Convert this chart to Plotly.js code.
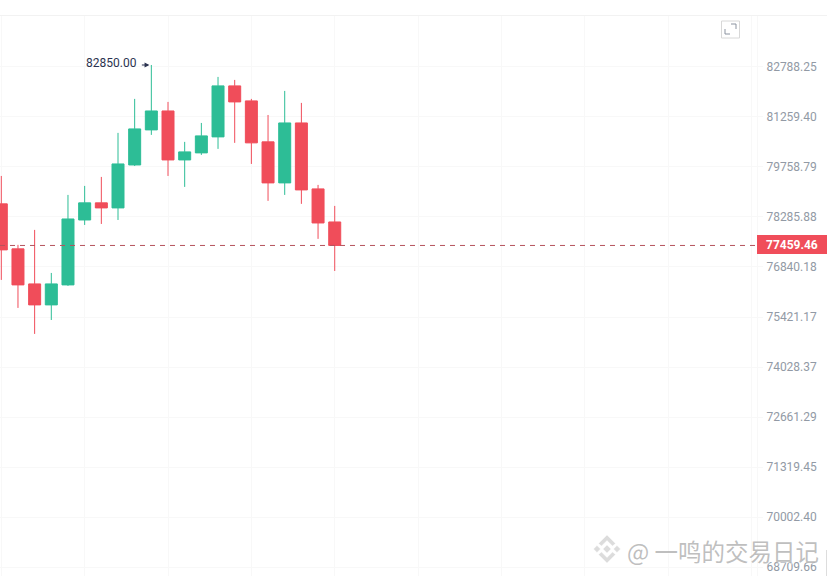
<!DOCTYPE html>
<html>
<head>
<meta charset="utf-8">
<script src="https://cdn.plot.ly/plotly-3.0.1.min.js"></script>
<style>html,body{margin:0;padding:0;background:#fff;overflow:hidden}#c{width:827px;height:576px}#c path{stroke-miterlimit:10}</style>
</head>
<body>
<div id="c"></div>
<script>
const candleIndex = [0,1,2,3,4,5,6,7,8,9,10,11,12,13,14,15,16,17,18,19,20];
const openPrices  = [78670,77361,76357,75762,76329,78199,78699,78551,79819,80869,81442,79969,80179,80659,82207,81748,80509,79287,81079,79110,78141];
const highPrices  = [79493,77477,77910,76670,78933,79198,79464,80779,81809,82850,81717,80509,81079,82482,82390,81809,81320,82053,81687,79228,78610];
const lowPrices   = [76471,75677,74947,75337,76300,78054,78083,78199,79789,80719,79493,79169,80119,80299,80479,79849,78758,78933,78670,77650,76726];
const closePrices = [77332,76329,75762,76357,78228,78699,78551,79849,80899,81442,79969,80209,80689,82207,81717,80479,79287,81079,79080,78112,77459.46];

const priceTicks = [82788.25,81259.40,79758.79,78285.88,76840.18,75421.17,74028.37,72661.29,71319.45,70002.40,68709.66];
const priceLabels = ["82788.25","81259.40","79758.79","78285.88","76840.18","75421.17","74028.37","72661.29","71319.45","70002.40","68709.66"];

const currentPrice = 77459.46;
const peakPrice = 82850;
const peakIndex = 9;
const priceRange = [68480, 84408];
const indexRange = [-0.078, 45.33];

const GREEN = "#2DBD96", RED = "#F04D5A", GRID = "#F8F8F8", AXIS = "#929AA5";
const W = 827, H = 576, PW = 757, PT = 15, PH = 561;
const px = x => x / PW, py = y => 1 - (y - PT) / PH;
const poly = pts => "M" + pts.map(p => px(p[0]) + "," + py(p[1])).join("L") + "Z";
const pline = pts => "M" + pts.map(p => px(p[0]) + "," + py(p[1])).join("L");

const logoFill = "rgba(205,205,205,0.7)";
const cx = 607, cy = 549;
const logoPaths = [
  [[cx-4,cy],[cx,cy-4],[cx+4,cy],[cx,cy+4]],
  [[cx-13.5,cy],[cx-10,cy-3.5],[cx-6.5,cy],[cx-10,cy+3.5]],
  [[cx+13.5,cy],[cx+10,cy-3.5],[cx+6.5,cy],[cx+10,cy+3.5]],
  [[cx,cy-14],[cx+8.5,cy-5.5],[cx+5.5,cy-3],[cx,cy-8.5],[cx-5.5,cy-3],[cx-8.5,cy-5.5]],
  [[cx,cy+14],[cx+8.5,cy+5.5],[cx+5.5,cy+3],[cx,cy+8.5],[cx-5.5,cy+3],[cx-8.5,cy+5.5]]
];

const shapes = [
  {type:"line",xref:"x",yref:"y",x0:indexRange[0],x1:indexRange[1],y0:currentPrice,y1:currentPrice,
   line:{color:"#B5535C",width:1,dash:"5px,5px"}},
  {type:"rect",xref:"paper",yref:"paper",x0:px(721.5),x1:px(739.5),y0:py(38),y1:py(21),line:{color:"#D8D8D8",width:1},fillcolor:"#fff"},
  {type:"path",xref:"paper",yref:"paper",path:pline([[731,24],[736,24],[736,29]]),line:{color:"#8B93A0",width:1}},
  {type:"path",xref:"paper",yref:"paper",path:pline([[725,29],[725,34],[730,34]]),line:{color:"#8B93A0",width:1}},
  {type:"rect",xref:"paper",yref:"paper",x0:px(757),x1:px(827),y0:py(254),y1:py(235),line:{width:0},fillcolor:RED},
  {type:"line",xref:"paper",yref:"paper",x0:px(826.5),x1:px(826.5),y0:py(576),y1:py(550),line:{color:"#DDDDDD",width:1}},
  {type:"line",xref:"paper",yref:"paper",x0:0,x1:px(827),y0:py(15.5),y1:py(15.5),line:{color:"#F2F2F2",width:1}}
].concat(logoPaths.map(p => ({type:"path",xref:"paper",yref:"paper",path:poly(p),fillcolor:logoFill,line:{color:"rgba(255,255,255,0.7)",width:0.5}})));

const annotations = [
  {xref:"x",yref:"y",x:peakIndex,y:Math.log10(peakPrice),xanchor:"right",yanchor:"middle",xshift:-12,yshift:2,
   text:peakPrice.toFixed(2),showarrow:false,font:{family:"Roboto",size:12,color:"#2B3350"}},
  {xref:"x",yref:"y",x:peakIndex,y:Math.log10(peakPrice),axref:"pixel",ayref:"pixel",ax:-11,ay:0,text:"",showarrow:true,
   arrowhead:2,arrowsize:0.8,arrowwidth:1.2,arrowcolor:"#2B3350",standoff:2},
  {xref:"paper",yref:"paper",x:px(792),y:py(245),xanchor:"center",yanchor:"middle",text:"<b>"+currentPrice.toFixed(2)+"</b>",
   showarrow:false,font:{family:"Roboto",size:12,color:"#fff"}},
  {xref:"paper",yref:"paper",x:px(625),y:py(551),xanchor:"left",yanchor:"middle",text:"@ 一鸣的交易日记",showarrow:false,
   font:{family:"Noto Sans CJK SC",size:23.5,color:"rgba(170,170,170,0.75)",shadow:"1px 1px 1px rgba(255,255,255,0.8)"}}
];

const trace = {
  type:"candlestick", x:candleIndex, open:openPrices, high:highPrices, low:lowPrices, close:closePrices,
  increasing:{line:{color:GREEN,width:1},fillcolor:GREEN},
  decreasing:{line:{color:RED,width:1},fillcolor:RED},
  whiskerwidth:0, hoverinfo:"skip", showlegend:false
};

const layout = {
  width:W, height:H, margin:{l:0,r:70,t:15,b:0}, paper_bgcolor:"#fff", plot_bgcolor:"#fff",
  showlegend:false, boxgap:0.28, boxgroupgap:0,
  xaxis:{type:"linear",range:indexRange,tick0:0,dtick:5,showgrid:true,gridcolor:GRID,gridwidth:1,zeroline:false,
         showticklabels:false,ticks:"",showline:false,rangeslider:{visible:false},fixedrange:true},
  yaxis:{type:"log",side:"right",range:priceRange.map(Math.log10),tickmode:"array",tickvals:priceTicks,ticktext:priceLabels,
         showgrid:true,gridcolor:GRID,gridwidth:1,zeroline:false,ticks:"outside",ticklen:5,tickcolor:GRID,tickwidth:1,
         showline:true,linecolor:GRID,linewidth:1,mirror:false,ticklabelstandoff:1,
         tickfont:{family:"Roboto",size:12,color:AXIS},fixedrange:true},
  shapes:shapes,
  annotations:annotations
};
Plotly.newPlot("c",[trace],layout,{displayModeBar:false,staticPlot:true});
</script>
</body>
</html>
